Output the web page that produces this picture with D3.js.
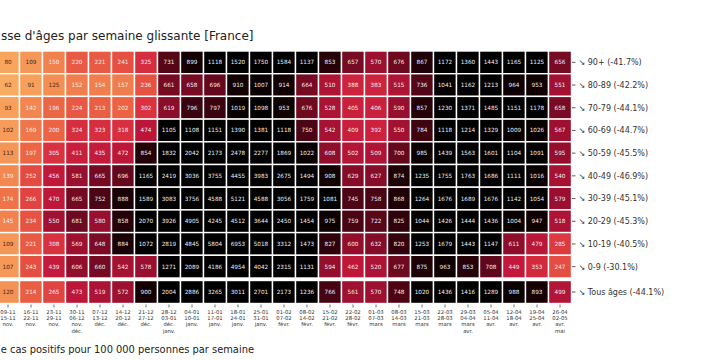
<!DOCTYPE html>
<html><head><meta charset="utf-8">
<script src="https://cdn.jsdelivr.net/npm/d3@7"></script>
<style>
html,body{margin:0;padding:0;background:#fff;}
svg{display:block;font-family:"DejaVu Sans",sans-serif;}
</style></head>
<body><svg id="chart" width="701" height="360"></svg>
<script>
const weekStart = ["09-11","16-11","23-11","30-11","07-12","14-12","21-12","28-12","04-01","11-01","18-01","25-01","01-02","08-02","15-02","22-02","01-03","08-03","15-03","22-03","29-03","05-04","12-04","19-04","26-04"];
const weekEnd   = ["15-11","22-11","29-11","06-12","13-12","20-12","27-12","03-01","10-01","17-01","24-01","31-01","07-02","14-02","21-02","28-02","07-03","14-03","21-03","28-03","04-04","11-04","18-04","25-04","02-05"];
const monthLine1 = ["nov.","nov.","nov.","nov.","déc.","déc.","déc.","déc.","janv.","janv.","janv.","janv.","févr.","févr.","févr.","févr.","mars","mars","mars","mars","mars","avr.","avr.","avr.","avr."];
const monthLine2 = ["","","","déc.","","","","janv.","","","","","","","","","","","","","avr.","","","","mai"];

const ageGroups = ["90+","80-89","70-79","60-69","50-59","40-49","30-39","20-29","10-19","0-9"];
const totalLabel = "Tous âges";
const changePct = ["-41.7%","-42.2%","-44.1%","-44.7%","-45.5%","-46.9%","-45.1%","-45.3%","-40.5%","-30.1%"];
const totalChangePct = "-44.1%";

const v90  = [80,109,150,220,221,241,325,731,899,1118,1520,1750,1584,1137,853,657,570,676,867,1172,1360,1443,1165,1125,656];
const v80  = [62,91,125,152,154,157,236,661,658,696,910,1007,914,664,510,388,383,515,736,1041,1162,1213,964,953,551];
const v70  = [93,142,196,224,213,202,302,619,796,797,1019,1098,953,676,528,405,406,590,857,1230,1371,1485,1151,1178,658];
const v60  = [102,169,200,324,323,318,474,1105,1108,1151,1390,1381,1118,750,542,409,392,550,784,1118,1214,1329,1009,1026,567];
const v50  = [113,197,305,411,435,472,854,1832,2042,2173,2478,2277,1869,1022,608,502,509,700,985,1439,1563,1601,1104,1091,595];
const v40  = [139,252,456,581,665,696,1165,2419,3036,3755,4455,3983,2675,1494,908,629,627,874,1235,1755,1763,1686,1111,1016,540];
const v30  = [174,266,470,665,752,888,1589,3083,3756,4588,5121,4588,3056,1759,1081,745,758,868,1264,1676,1689,1676,1142,1054,579];
const v20  = [145,234,550,681,580,858,2070,3926,4905,4245,4512,3644,2450,1454,975,759,722,825,1044,1426,1444,1436,1004,947,518];
const v10  = [109,221,308,569,648,884,1072,2819,4845,5804,6953,5018,3312,1473,827,600,632,820,1253,1679,1443,1147,611,479,285];
const v0   = [107,243,439,606,660,542,578,1271,2089,4186,4954,4042,2315,1131,594,462,520,677,875,963,853,708,449,353,247];
const vAll = [120,214,265,473,519,572,900,2004,2886,3265,3011,2701,2173,1236,766,561,570,748,1020,1436,1416,1289,988,893,499];

const ageValues = [v90,v80,v70,v60,v50,v40,v30,v20,v10,v0];

// visible parts of the (cropped) title and footnote
const titleText = "sse d'âges par semaine glissante [France]";
const footText = "e cas positifs pour 100 000 personnes par semaine";

const svg = d3.select("#chart");
const cols = d3.range(weekStart.length);

const x = d3.scaleBand().domain(cols).range([-3.5, 571.5]).padding(0);
const y = d3.scaleBand().domain(ageGroups).range([51, 278]).padding(0);
const yTot = d3.scaleBand().domain([totalLabel]).range([280.5, 303.5]).padding(0);

const color = d3.scaleLinear()
  .domain([0, 80, 130, 200, 300, 450, 600, 750, 900, 1100])
  .range(["#fbbd70","#f8a65e","#f38c52","#ec6444","#da323f","#c3183b","#930e2d","#4c0514","#140003","#000000"])
  .clamp(true);

function drawRow(vals, yy, label, pct, g) {
  const h = label === totalLabel ? yTot.bandwidth() : y.bandwidth();
  const row = g.append("g");
  row.selectAll("rect").data(vals).join("rect")
    .attr("x", (d,i) => x(i)).attr("y", yy)
    .attr("width", x.bandwidth()).attr("height", h)
    .attr("fill", d => color(d))
    .attr("stroke", "#fff").attr("stroke-width", 1.4);
  row.selectAll("text.val").data(vals).join("text").attr("class","val")
    .attr("x", (d,i) => x(i) + x.bandwidth()/2)
    .attr("y", yy + h/2 + 2)
    .attr("text-anchor","middle")
    .attr("font-size", "5.7px")
    .attr("fill", d => d < 130 ? "#3a2a20" : "#f2f2f2")
    .text(d => d);
  const cy = yy + h/2;
  row.append("line").attr("x1", 572).attr("x2", 575.5).attr("y1", cy).attr("y2", cy)
    .attr("stroke", "#333").attr("stroke-width", 0.8);
  row.append("text").attr("x", 578.5).attr("y", cy + 2.9)
    .attr("font-size", "8px").attr("fill", "#333")
    .text("↘ " + label + " (" + pct + ")");
}

const grid = svg.append("g");
ageGroups.forEach((a, i) => drawRow(ageValues[i], y(a), a, changePct[i], grid));
drawRow(vAll, yTot(totalLabel), totalLabel, totalChangePct, grid);

// x axis
const xa = svg.append("g");
const tk = xa.selectAll("g").data(cols).join("g")
  .attr("transform", d => `translate(${x(d) + x.bandwidth()/2},0)`);
tk.append("line").attr("y1", 304.5).attr("y2", 307.5).attr("stroke", "#333").attr("stroke-width", 0.7);
const lines = [weekStart, weekEnd, monthLine1, monthLine2];
lines.forEach((arr, li) => {
  tk.append("text").attr("y", 314 + li * 6.2)
    .attr("text-anchor", "middle").attr("font-size", "5.3px").attr("fill", "#333")
    .text(d => arr[d]);
});

svg.append("text").attr("x", 1).attr("y", 40).attr("text-anchor", "start")
  .attr("font-size", "12px").attr("fill", "#222").text(titleText);
svg.append("text").attr("x", 254).attr("y", 353).attr("text-anchor", "end")
  .attr("font-size", "9.9px").attr("fill", "#222").text(footText);
</script>
</body></html>
